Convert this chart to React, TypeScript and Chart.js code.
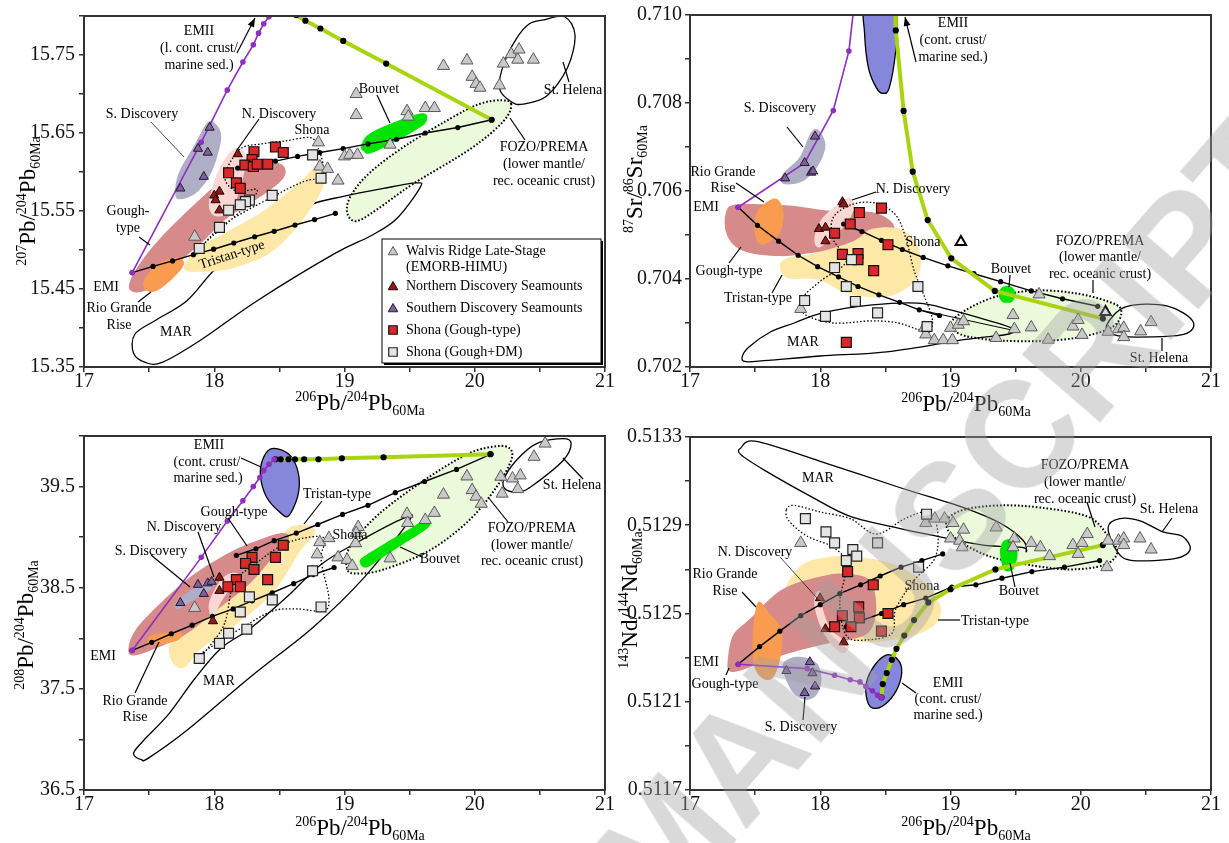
import React, { useEffect, useRef } from "react";
import { Chart, registerables } from "chart.js";

Chart.register(...registerables);

type P = [number, number];

const SERIF = "'Liberation Serif', 'Times New Roman', serif";

/* ================= AXES ================= */
const xTickValues = [17, 17.5, 18, 18.5, 19, 19.5, 20, 20.5, 21];
const xTickLabels = ["17", "", "18", "", "19", "", "20", "", "21"];

const p1YTicks = [15.35, 15.4, 15.45, 15.5, 15.55, 15.6, 15.65, 15.7, 15.75, 15.8];
const p1YLabels = ["15.35", "", "15.45", "", "15.55", "", "15.65", "", "15.75", ""];
const p2YTicks = [0.702, 0.703, 0.704, 0.705, 0.706, 0.707, 0.708, 0.709, 0.71];
const p2YLabels = ["0.702", "", "0.704", "", "0.706", "", "0.708", "", "0.710"];
const p3YTicks = [36.5, 37.0, 37.5, 38.0, 38.5, 39.0, 39.5, 40.0];
const p3YLabels = ["36.5", "", "37.5", "", "38.5", "", "39.5", ""];
const p4YTicks = [0.5117, 0.5119, 0.5121, 0.5123, 0.5125, 0.5127, 0.5129, 0.5131, 0.5133];
const p4YLabels = ["0.5117", "", "0.5121", "", "0.5125", "", "0.5129", "", "0.5133"];

type Seg = [string, number]; // 0 normal, 1 sup, 2 sub
const xTitle: Seg[] = [["206", 1], ["Pb/", 0], ["204", 1], ["Pb", 0], ["60Ma", 2]];
const p1YTitle: Seg[] = [["207", 1], ["Pb/", 0], ["204", 1], ["Pb", 0], ["60Ma", 2]];
const p2YTitle: Seg[] = [["87", 1], ["Sr/", 0], ["86", 1], ["Sr", 0], ["60Ma", 2]];
const p3YTitle: Seg[] = [["208", 1], ["Pb/", 0], ["204", 1], ["Pb", 0], ["60Ma", 2]];
const p4YTitle: Seg[] = [["143", 1], ["Nd/", 0], ["144", 1], ["Nd", 0], ["60Ma", 2]];

/* ================= PANEL 1 : 207Pb/204Pb ================= */
const walvis1: P[] = [[19.76,15.736],[19.94,15.743],[19.98,15.722],[20.01,15.713],[20.04,15.708],[20.22,15.739],[20.28,15.751],[20.33,15.744],[20.34,15.757],[20.45,15.744],[20.19,15.711],[19.09,15.7],[19.09,15.673],[19.48,15.678],[19.49,15.671],[19.62,15.682],[19.69,15.682],[19.35,15.635],[18.8,15.638],[19.0,15.62],[19.04,15.622],[19.1,15.622],[18.81,15.607],[18.87,15.604],[18.95,15.589],[17.85,15.517]];
const nDisc1: P[] = [[18.18,15.623],[18.04,15.575],[18.0,15.57],[18.01,15.564],[18.04,15.551]];
const sDisc1: P[] = [[17.965,15.657],[17.875,15.63],[17.95,15.625],[17.92,15.594],[17.74,15.579]];
const shonaG1: P[] = [[18.305,15.626],[18.47,15.632],[18.53,15.625],[18.29,15.616],[18.235,15.609],[18.3,15.607],[18.33,15.61],[18.41,15.61],[18.11,15.599],[18.17,15.586],[18.2,15.579]];
const shonaDM1: P[] = [[18.755,15.622],[18.82,15.592],[18.445,15.57],[18.27,15.564],[18.24,15.562],[18.2,15.558],[18.11,15.551],[18.04,15.529],[17.885,15.502]];
const purple1: P[] = [[17.37,15.471],[17.9,15.638],[18.1,15.705],[18.22,15.741],[18.3,15.763],[18.34,15.778],[18.38,15.79],[18.42,15.799]];
const purple1Stub: P[] = [[18.42,15.799],[18.45,15.81]];
const green1: P[] = [[18.63,15.801],[18.7,15.794],[18.815,15.784],[18.99,15.768],[19.32,15.739],[20.13,15.667]];
const green1Stub: P[] = [[18.59,15.81],[18.63,15.801]];
const blackUp1: P[] = [[18.18,15.605],[18.32,15.61],[18.47,15.614],[18.64,15.62],[18.81,15.625],[18.99,15.63],[19.18,15.636],[19.4,15.642],[19.62,15.65],[19.87,15.657],[20.13,15.667]];
const blackLow1: P[] = [[17.37,15.471],[17.53,15.479],[17.68,15.486],[17.84,15.494],[17.995,15.501],[18.15,15.509],[18.31,15.517],[18.46,15.524],[18.62,15.532],[18.77,15.539],[18.93,15.547]];

const fozo1: P[] = [[20.28,15.687],[20.2,15.692],[20.05,15.688],[19.86,15.673],[19.48,15.635],[19.2,15.6],[19.05,15.57],[19.02,15.548],[19.09,15.537],[19.25,15.552],[19.52,15.584],[19.97,15.63],[20.22,15.665]];
const mar1: P[] = [[17.47,15.356],[17.38,15.368],[17.39,15.392],[17.55,15.41],[17.79,15.435],[18.01,15.476],[18.3,15.515],[18.71,15.556],[19.0,15.569],[19.3,15.579],[19.55,15.586],[19.58,15.58],[19.4,15.54],[19.2,15.518],[18.92,15.495],[18.33,15.435],[17.9,15.385],[17.6,15.356]];
const stHel1: P[] = [[20.53,15.795],[20.69,15.799],[20.77,15.775],[20.71,15.733],[20.55,15.697],[20.37,15.687],[20.28,15.69],[20.19,15.707],[20.22,15.737],[20.32,15.771],[20.42,15.79]];
const tristan1: P[] = [[17.768,15.476],[17.852,15.499],[18.083,15.522],[18.35,15.547],[18.635,15.584],[18.79,15.608],[18.85,15.603],[18.82,15.575],[18.643,15.531],[18.428,15.496],[18.15,15.477],[17.89,15.472]];
const gough1: P[] = [[17.345,15.452],[17.41,15.478],[17.59,15.516],[17.845,15.558],[18.075,15.592],[18.23,15.609],[18.43,15.613],[18.535,15.607],[18.53,15.592],[18.38,15.571],[18.1,15.541],[17.92,15.512],[17.77,15.49],[17.59,15.461],[17.435,15.446]];
const rioG1: P[] = [[17.46,15.461],[17.563,15.482],[17.716,15.49],[17.768,15.482],[17.69,15.465],[17.563,15.448],[17.476,15.448]];
const nDiscF1: P[] = [[17.96,15.563],[18.03,15.601],[18.127,15.626],[18.203,15.63],[18.244,15.613],[18.18,15.569],[18.1,15.546],[17.99,15.545]];
const sDiscF1: P[] = [[17.98,15.665],[18.04,15.655],[18.05,15.638],[17.98,15.6],[17.86,15.573],[17.73,15.565],[17.7,15.575],[17.73,15.6],[17.85,15.635],[17.93,15.66]];
const bouvet1: P[] = [[19.13,15.635],[19.22,15.652],[19.58,15.675],[19.63,15.665],[19.53,15.652],[19.22,15.625],[19.145,15.627]];
const shona1: P[] = [[18.1,15.605],[18.203,15.63],[18.357,15.636],[18.55,15.64],[18.74,15.644],[18.8,15.63],[18.84,15.605],[18.817,15.592],[18.69,15.588],[18.433,15.567],[18.075,15.533],[17.896,15.503],[17.92,15.508],[18.228,15.554],[18.33,15.577],[18.177,15.575],[18.088,15.588]];

/* ================= PANEL 2 : 87Sr/86Sr ================= */
const walvis2: P[] = [[17.85,0.70332],[18.8,0.70289],[18.81,0.70274],[18.875,0.70261],[18.944,0.70261],[19.015,0.70261],[19.0,0.70289],[19.06,0.70296],[19.1,0.70304],[19.48,0.70318],[19.49,0.70286],[19.62,0.7029],[19.68,0.70365],[19.75,0.70262],[19.35,0.70266],[19.94,0.70292],[19.98,0.70307],[20.01,0.70273],[20.21,0.7028],[20.29,0.70286],[20.33,0.70289],[20.33,0.70268],[20.46,0.70281],[20.54,0.70302]];
const open2: P[] = [[19.08,0.70484],[20.19,0.70325]];
const nDisc2: P[] = [[18.17,0.70575],[18.18,0.7057],[17.99,0.70514],[18.04,0.70517],[18.04,0.70486]];
const sDisc2: P[] = [[17.96,0.70724],[17.88,0.70664],[17.93,0.70642],[17.945,0.70645],[17.73,0.70629]];
const shonaG2: P[] = [[18.3,0.70551],[18.47,0.70561],[18.23,0.70525],[18.11,0.70504],[18.52,0.70478],[18.17,0.70456],[18.29,0.70458],[18.29,0.70444],[18.41,0.70419],[18.2,0.70256]];
const shonaDM2: P[] = [[18.11,0.70426],[18.24,0.70444],[18.2,0.70383],[18.27,0.70349],[17.88,0.70351],[18.04,0.70315],[18.44,0.70323],[18.75,0.70383],[18.82,0.70292]];
const purple2: P[] = [[17.37,0.70563],[17.88,0.70664],[18.1,0.70783],[18.22,0.70918]];
const purple2Stub: P[] = [[18.22,0.70918],[18.255,0.7101]];
const green2: P[] = [[18.58,0.70965],[18.64,0.70782],[18.71,0.70644],[18.825,0.70534],[19.006,0.70447],[19.34,0.70373],[20.17,0.7031]];
const green2Stub: P[] = [[18.575,0.7101],[18.58,0.70965]];
const blackLow2: P[] = [[17.37,0.70563],[17.518,0.70522],[17.68,0.70486],[17.83,0.70454],[17.98,0.70428],[18.14,0.70405],[18.29,0.70383],[18.45,0.70364],[18.61,0.70347],[18.76,0.7033],[18.915,0.70317]];
const thin2: P[] = [[18.76,0.7033],[19.47,0.70284]];
const blackUp2: P[] = [[18.18,0.70525],[18.32,0.70508],[18.47,0.70488],[18.63,0.70467],[18.79,0.70449],[18.98,0.7043],[19.18,0.70412],[19.385,0.70394],[19.62,0.70373],[19.86,0.70355],[20.13,0.70338]];

const emii2: P[] = [[18.35,0.7102],[18.34,0.7096],[18.37,0.7088],[18.43,0.70835],[18.48,0.70822],[18.53,0.70835],[18.58,0.7092],[18.59,0.71],[18.58,0.7103]];
const rioG2: P[] = [[17.65,0.70583],[17.717,0.70555],[17.686,0.70503],[17.546,0.70478],[17.495,0.7051],[17.52,0.70555]];
const gough2: P[] = [[17.28,0.70555],[17.38,0.7057],[17.76,0.70567],[18.07,0.70555],[18.27,0.70555],[18.45,0.70548],[18.56,0.70525],[18.53,0.70503],[18.27,0.70473],[17.97,0.70461],[17.69,0.70452],[17.4,0.70465],[17.28,0.70503]];
const tristan2: P[] = [[17.69,0.7043],[17.75,0.70448],[17.95,0.70458],[18.25,0.70485],[18.4,0.70514],[18.63,0.70512],[18.76,0.70465],[18.75,0.70405],[18.6,0.70368],[18.43,0.70358],[18.2,0.70368],[17.99,0.70398],[17.75,0.70402]];
const nDiscF2: P[] = [[18.25,0.70578],[18.2,0.70582],[18.02,0.7054],[17.955,0.70492],[18.006,0.70473],[18.2,0.70525],[18.26,0.70563]];
const sDiscF2: P[] = [[17.98,0.7074],[18.04,0.70706],[17.99,0.70661],[17.87,0.70623],[17.72,0.70616],[17.71,0.70638],[17.84,0.70676],[17.92,0.70728]];
const fozo2: P[] = [[19.0,0.703],[19.12,0.7033],[19.35,0.7036],[19.65,0.70374],[19.95,0.70368],[20.2,0.7035],[20.31,0.7033],[20.25,0.70292],[20.0,0.70268],[19.7,0.70259],[19.4,0.7026],[19.15,0.70268],[19.03,0.70282]];
const bouvet2: P[] = [[19.37,0.70365],[19.4,0.70382],[19.47,0.70382],[19.5,0.70365],[19.47,0.70348],[19.4,0.70348]];
const stHel2: P[] = [[20.2,0.70296],[20.35,0.70337],[20.66,0.70339],[20.86,0.70304],[20.79,0.70274],[20.43,0.70268],[20.25,0.70274]];
const mar2: P[] = [[17.4,0.70222],[17.45,0.70245],[17.62,0.7028],[17.8,0.703],[18.02,0.70323],[18.4,0.70341],[18.75,0.70345],[19.0,0.7033],[19.3,0.70305],[19.47,0.70288],[19.45,0.70275],[19.1,0.70262],[18.53,0.70235],[18.0,0.70225],[17.6,0.70215],[17.43,0.70212]];
const shona2: P[] = [[18.43,0.70572],[18.58,0.70545],[18.66,0.7049],[18.72,0.7042],[18.8,0.7036],[18.86,0.7031],[18.84,0.7028],[18.75,0.70285],[18.6,0.703],[18.4,0.70305],[18.1,0.703],[17.88,0.7032],[17.86,0.70355],[18.0,0.70395],[18.2,0.7044],[18.1,0.7049],[18.1,0.7054],[18.25,0.7057]];

/* ================= PANEL 3 : 208Pb/204Pb ================= */
const walvis3: P[] = [[20.54,39.925],[20.455,39.794],[20.29,39.58],[20.35,39.61],[20.33,39.475],[20.21,39.43],[20.2,39.597],[19.94,39.6],[19.98,39.465],[20.01,39.4],[20.05,39.33],[19.76,39.42],[19.69,39.24],[19.62,39.17],[19.48,39.23],[19.485,39.14],[19.35,38.79],[19.105,39.1],[19.09,39.04],[19.085,38.94],[18.95,38.8],[19.02,38.775],[19.06,38.716],[18.81,38.95],[18.79,38.83],[18.88,38.99],[17.85,38.3]];
const nDisc3: P[] = [[18.04,38.6],[18.04,38.47],[17.99,38.17]];
const sDisc3: P[] = [[17.875,38.53],[17.95,38.545],[17.92,38.44],[17.74,38.35],[17.98,38.56]];
const shonaG3: P[] = [[18.53,38.92],[18.47,38.8],[18.29,38.8],[18.24,38.74],[18.305,38.68],[18.41,38.58],[18.17,38.58],[18.105,38.51],[18.2,38.51]];
const shonaDM3: P[] = [[18.755,38.667],[18.446,38.38],[18.27,38.41],[18.2,38.26],[18.25,38.09],[18.11,38.05],[18.04,37.95],[17.885,37.8],[18.82,38.31]];
const purple3: P[] = [[17.37,37.88],[17.9,38.8],[18.1,39.16],[18.22,39.36],[18.3,39.5],[18.35,39.59],[18.38,39.66],[18.42,39.72],[18.46,39.77]];
const green3: P[] = [[18.47,39.77],[18.51,39.77],[18.57,39.77],[18.62,39.77],[18.69,39.77],[18.8,39.77],[18.98,39.78],[19.3,39.79],[20.12,39.82]];
const blackLow3: P[] = [[17.37,37.88],[17.52,37.96],[17.67,38.045],[17.83,38.13],[17.985,38.216],[18.145,38.29],[18.29,38.37],[18.445,38.45],[18.61,38.54],[18.76,38.63],[18.92,38.7]];
const blackUp3: P[] = [[18.17,38.82],[18.32,38.885],[18.46,38.965],[18.63,39.04],[18.795,39.125],[18.985,39.225],[19.18,39.315],[19.39,39.44],[19.615,39.55],[19.86,39.67],[20.125,39.82]];

const mar3: P[] = [[17.44,36.8],[17.38,36.86],[17.45,36.98],[17.65,37.25],[17.85,37.6],[18.05,37.9],[18.28,38.1],[18.55,38.4],[18.82,38.73],[19.1,38.95],[19.46,39.19],[19.49,39.15],[19.15,38.6],[18.76,38.11],[18.28,37.62],[17.8,37.1],[17.5,36.82]];
const stHel3: P[] = [[20.22,39.56],[20.32,39.76],[20.475,39.925],[20.68,39.975],[20.74,39.925],[20.68,39.76],[20.45,39.515],[20.35,39.45],[20.245,39.465]];
const fozo3: P[] = [[19.02,38.69],[19.04,38.9],[19.27,39.235],[19.655,39.6],[19.96,39.83],[20.17,39.9],[20.27,39.875],[20.28,39.76],[20.17,39.5],[19.96,39.17],[19.655,38.87],[19.3,38.68],[19.09,38.64]];
const tristan3: P[] = [[17.68,37.76],[17.66,37.95],[17.8,38.15],[18.1,38.45],[18.4,38.78],[18.55,39.06],[18.65,39.12],[18.75,39.1],[18.77,39.03],[18.66,38.86],[18.45,38.45],[18.15,38.12],[17.9,37.9],[17.77,37.71]];
const gough3: P[] = [[17.34,37.88],[17.38,38.05],[17.51,38.25],[17.82,38.61],[18.15,38.87],[18.38,38.99],[18.53,39.04],[18.57,38.98],[18.45,38.8],[18.28,38.55],[18.02,38.28],[17.77,38.03],[17.51,37.88],[17.38,37.83]];
const rioG3: P[] = [[17.48,37.96],[17.52,38.03],[17.65,38.06],[17.75,38.05],[17.72,37.98],[17.6,37.94],[17.5,37.93]];
const nDiscF3: P[] = [[17.97,38.22],[17.96,38.35],[18.02,38.52],[18.1,38.63],[18.18,38.64],[18.19,38.55],[18.1,38.45],[18.03,38.3],[18.0,38.2]];
const sDiscF3: P[] = [[17.7,38.31],[17.72,38.38],[17.85,38.5],[17.98,38.585],[18.02,38.56],[17.95,38.46],[17.82,38.36],[17.73,38.29]];
const emii3: P[] = [[18.43,39.87],[18.52,39.86],[18.6,39.78],[18.65,39.6],[18.64,39.4],[18.57,39.21],[18.5,39.25],[18.4,39.4],[18.355,39.6],[18.37,39.76]];
const bouvet3: P[] = [[19.12,38.74],[19.14,38.8],[19.3,38.93],[19.5,39.08],[19.6,39.16],[19.66,39.14],[19.62,39.07],[19.45,38.93],[19.28,38.79],[19.17,38.7]];
const shona3: P[] = [[18.52,38.92],[18.73,39.0],[18.85,38.98],[18.82,38.78],[18.88,38.4],[18.84,38.27],[18.64,38.29],[18.45,38.27],[18.22,38.11],[17.9,37.85],[17.86,37.78],[17.95,37.9],[18.08,38.15],[18.15,38.55],[18.3,38.72]];

/* ================= PANEL 4 : 143Nd/144Nd ================= */
const walvis4: P[] = [[17.85,0.51282],[18.81,0.51291],[18.88,0.51293],[18.955,0.51293],[19.02,0.51291],[19.1,0.51288],[19.0,0.51284],[19.07,0.51283],[19.09,0.5128],[19.35,0.51289],[19.49,0.51284],[19.48,0.5128],[19.62,0.51282],[19.69,0.5128],[19.76,0.51276],[19.94,0.51281],[20.01,0.51282],[20.05,0.51286],[19.98,0.51277],[20.2,0.51271],[20.21,0.51283],[20.29,0.51283],[20.33,0.51284],[20.33,0.51281],[20.455,0.51284],[20.54,0.51279]];
const nDisc4: P[] = [[17.998,0.51257],[18.04,0.51243],[18.18,0.51237]];
const sDisc4: P[] = [[17.92,0.51228],[17.74,0.51224],[17.94,0.51223],[17.96,0.51217],[17.88,0.51214]];
const shonaG4: P[] = [[18.21,0.51269],[18.407,0.51263],[18.295,0.51253],[18.17,0.51249],[18.3,0.51248],[18.11,0.51244],[18.236,0.51244],[18.52,0.5125],[18.47,0.51242]];
const shonaDM4: P[] = [[17.886,0.51293],[18.044,0.51287],[18.11,0.51282],[18.25,0.51279],[18.28,0.51276],[18.2,0.51274],[18.44,0.51282],[18.755,0.51271],[18.816,0.51295]];
const purple4: P[] = [[17.37,0.51227],[17.9,0.51225],[18.11,0.51222],[18.23,0.5122],[18.305,0.51219],[18.35,0.51217],[18.4,0.51215],[18.44,0.51213],[18.47,0.51212]];
const green4: P[] = [[18.47,0.51212],[18.48,0.51218],[18.51,0.51223],[18.55,0.51229],[18.585,0.51234],[18.645,0.5124],[18.72,0.51247],[18.83,0.51255],[19.0,0.51261],[19.345,0.5127],[20.17,0.51281]];
const blackA4: P[] = [[17.37,0.51227],[17.535,0.51235],[17.69,0.51242],[17.85,0.51249],[18.0,0.51254],[18.15,0.51259],[18.31,0.51263],[18.46,0.51267],[18.62,0.51271],[18.78,0.51274],[18.94,0.51277]];
const blackB4: P[] = [[18.2,0.51244],[18.325,0.51247],[18.47,0.5125],[18.64,0.51254],[18.81,0.51257],[19.01,0.51262],[19.195,0.51263],[19.395,0.51266],[19.625,0.51269],[19.875,0.51271],[20.145,0.51274]];

const mar4: P[] = [[17.39,0.51325],[17.51,0.51328],[18.0,0.51319],[18.615,0.51307],[19.1,0.51298],[19.38,0.51291],[19.56,0.51283],[19.58,0.51278],[19.55,0.5128],[19.25,0.51281],[18.9,0.51285],[18.615,0.512885],[18.23,0.51294],[17.93,0.51303],[17.57,0.51315],[17.39,0.51322]];
const stHel4: P[] = [[20.21,0.51289],[20.3,0.51293],[20.455,0.51292],[20.63,0.51287],[20.78,0.51285],[20.84,0.51279],[20.73,0.51275],[20.4,0.51274],[20.28,0.51278]];
const fozo4: P[] = [[18.97,0.51292],[19.1,0.51297],[19.38,0.51299],[19.69,0.51298],[20.05,0.51294],[20.2,0.51286],[20.28,0.51278],[20.18,0.51272],[19.89,0.5127],[19.51,0.51273],[19.25,0.51277],[19.02,0.51285]];
const tristan4: P[] = [[17.72,0.51259],[17.84,0.51271],[18.0,0.51275],[18.2,0.51276],[18.53,0.51273],[18.8,0.51264],[18.925,0.51253],[18.88,0.51245],[18.71,0.5124],[18.38,0.51237],[18.1,0.5124],[17.8,0.5125]];
const gough4: P[] = [[17.29,0.51229],[17.33,0.5124],[17.45,0.51247],[17.71,0.51261],[18.02,0.51267],[18.2,0.51268],[18.38,0.51265],[18.43,0.51253],[18.38,0.51242],[18.22,0.51238],[18.02,0.51236],[17.76,0.51232],[17.56,0.51228],[17.38,0.51224],[17.3,0.51224]];
const rioG4: P[] = [[17.52,0.51255],[17.61,0.5125],[17.7,0.51243],[17.7,0.51232],[17.65,0.51222],[17.58,0.5122],[17.5,0.51225],[17.48,0.51238]];
const nDiscF4: P[] = [[17.96,0.51258],[18.0,0.5126],[18.02,0.51252],[18.08,0.51243],[18.18,0.51238],[18.22,0.51235],[18.18,0.51232],[18.1,0.51235],[18.01,0.51243],[17.96,0.51252]];
const sDiscF4: P[] = [[17.71,0.51226],[17.78,0.5123],[17.89,0.5123],[17.98,0.51227],[18.01,0.5122],[17.97,0.51213],[17.88,0.51211],[17.78,0.51215]];
const emii4: P[] = [[18.35,0.51217],[18.4,0.51225],[18.5,0.51231],[18.58,0.5123],[18.625,0.51225],[18.6,0.51217],[18.52,0.5121],[18.43,0.51207],[18.37,0.51209]];
const bouvet4: P[] = [[19.38,0.51278],[19.41,0.51283],[19.48,0.51283],[19.515,0.51277],[19.48,0.5127],[19.41,0.5127]];
const shona4: P[] = [[17.74,0.51297],[17.8,0.51299],[18.0,0.51296],[18.23,0.51293],[18.43,0.51286],[18.65,0.51293],[18.83,0.51296],[18.9,0.51288],[18.88,0.51275],[18.72,0.51265],[18.58,0.51252],[18.55,0.51241],[18.35,0.51238],[18.2,0.5124],[18.15,0.51255],[18.2,0.51272],[18.1,0.5128],[17.9,0.51285],[17.76,0.51292]];

/* ================= LEGEND ================= */
const legendKeys = ["walvis", "nd", "sd", "shonaG", "shonaDM"];
const legendLabels = [["Walvis Ridge Late-Stage", "(EMORB-HIMU)"], ["Northern Discovery Seamounts"], ["Southern Discovery Seamounts"], ["Shona (Gough-type)"], ["Shona (Gough+DM)"]];

/* ================= STYLES ================= */
const MK: any = {
  walvis: { style: "triangle", r: 7, fill: "#c9c9c9", stroke: "#5a5a5a", lw: 1, order: 5 },
  open: { style: "triangle", r: 6, fill: "#ffffff", stroke: "#000000", lw: 2, order: 5 },
  nd: { style: "triangle", r: 5.3, fill: "#8e1b1b", stroke: "#220000", lw: 1, order: 3 },
  sd: { style: "triangle", r: 5.3, fill: "#806098", stroke: "#241830", lw: 1, order: 4 },
  shonaG: { style: "rect", r: 7, fill: "#d82828", stroke: "#111111", lw: 1.2, order: 2 },
  shonaDM: { style: "rect", r: 7, fill: "#e4e4e4", stroke: "#222222", lw: 1.2, order: 1 },
};
const LS: any = {
  black: { color: "#000000", width: 1.4, dot: "#000000", r: 2.6, order: 8 },
  thin: { color: "#000000", width: 1, dot: "#000000", r: 0, order: 9 },
  purple: { color: "#8e2fc0", width: 1.6, dot: "#8e2fc0", r: 2.8, order: 6 },
  purpleStub: { color: "#8e2fc0", width: 1.6, dot: "#8e2fc0", r: 0, order: 6 },
  green: { color: "#a9d410", width: 4, dot: "#000000", r: 3.1, order: 7 },
  greenStub: { color: "#a9d410", width: 4, dot: "#000000", r: 0, order: 7 },
};
const FS: any = {
  mar: { stroke: "#000000", lw: 1.3 },
  st: { stroke: "#000000", lw: 1.3 },
  fozo: { fill: "#ecfadc", stroke: "#000000", lw: 2, dash: [1.6, 2] },
  tristan: { fill: "#fde8a8" },
  gough: { fill: "#d68a8a" },
  rg: { fill: "#f99c50" },
  nd: { fill: "#fbd7d3" },
  sd: { fill: "#afaec7" },
  emii: { fill: "#8686da", stroke: "#000000", lw: 1.3 },
  bouvet: { fill: "#00e400" },
  shona: { stroke: "#000000", lw: 1.3, dash: [1.5, 2] },
};

/* ================= ANNOTATIONS (canvas px) ================= */
const p1Texts = [
  { t: "EMII", x: 199, y: 31 }, { t: "(l. cont. crust/", x: 199, y: 48 }, { t: "marine sed.)", x: 199, y: 65 },
  { t: "S. Discovery", x: 142, y: 114 }, { t: "N. Discovery", x: 279, y: 114 }, { t: "Shona", x: 312, y: 130 },
  { t: "Bouvet", x: 379, y: 89 }, { t: "St. Helena", x: 573, y: 90 },
  { t: "FOZO/PREMA", x: 544, y: 147 }, { t: "(lower mantle/", x: 544, y: 164 }, { t: "rec. oceanic crust)", x: 544, y: 181 },
  { t: "Gough-", x: 128, y: 211 }, { t: "type", x: 128, y: 228 }, { t: "Tristan-type", x: 232, y: 255, r: -18 },
  { t: "EMI", x: 106, y: 287 }, { t: "Rio Grande", x: 119, y: 308 }, { t: "Rise", x: 119, y: 325 }, { t: "MAR", x: 176, y: 332 },
];
const p1Leaders = [
  { a: [151, 122], b: [184, 157], w: 0.7 }, { a: [259, 119], b: [237, 150] }, { a: [377, 95], b: [390, 123] },
  { a: [563, 62], b: [569, 82] }, { a: [510, 118], b: [525, 140] }, { a: [139, 237], b: [150, 245] },
  { a: [151, 292], b: [138, 302] }, { a: [237, 53], b: [255, 18], arrow: true },
];
const p2Texts = [
  { t: "EMII", x: 338, y: 23 }, { t: "(cont. crust/", x: 338, y: 40 }, { t: "marine sed.)", x: 338, y: 57 },
  { t: "S. Discovery", x: 165, y: 108 }, { t: "Rio Grande", x: 108, y: 172 }, { t: "Rise", x: 108, y: 188 },
  { t: "EMI", x: 91, y: 207 }, { t: "N. Discovery", x: 298, y: 189 }, { t: "Shona", x: 308, y: 242 },
  { t: "Gough-type", x: 114, y: 271 }, { t: "Tristan-type", x: 143, y: 298 },
  { t: "FOZO/PREMA", x: 485, y: 241 }, { t: "(lower mantle/", x: 485, y: 257 }, { t: "rec. oceanic crust)", x: 485, y: 274 },
  { t: "Bouvet", x: 396, y: 269 }, { t: "MAR", x: 188, y: 342 }, { t: "St. Helena", x: 544, y: 358 },
];
const p2Leaders = [
  { a: [301, 62], b: [290, 17], arrow: true }, { a: [172, 127], b: [188, 147] }, { a: [121, 183], b: [149, 202] },
  { a: [261, 192], b: [237, 200] }, { a: [114, 263], b: [126, 247] }, { a: [157, 293], b: [167, 275] },
  { a: [478, 280], b: [478, 293] }, { a: [395, 275], b: [394, 287] }, { a: [547, 351], b: [547, 338] },
];
const p3Texts = [
  { t: "EMII", x: 209, y: 25 }, { t: "(cont. crust/", x: 207, y: 42 }, { t: "marine sed.)", x: 208, y: 58 },
  { t: "Tristan-type", x: 337, y: 74 }, { t: "Gough-type", x: 234, y: 92 }, { t: "N. Discovery", x: 184, y: 107 },
  { t: "S. Discovery", x: 151, y: 131 }, { t: "Shona", x: 350, y: 115 }, { t: "EMI", x: 103, y: 236 },
  { t: "Rio Grande", x: 135, y: 281 }, { t: "Rise", x: 135, y: 297 }, { t: "MAR", x: 219, y: 261 },
  { t: "Bouvet", x: 440, y: 139 }, { t: "FOZO/PREMA", x: 532, y: 108 }, { t: "(lower mantle/", x: 532, y: 125 },
  { t: "rec. oceanic crust)", x: 532, y: 141 }, { t: "St. Helena", x: 572, y: 65 },
];
const p3Leaders = [
  { a: [241, 38], b: [261, 47] }, { a: [304, 104], b: [322, 81] }, { a: [228, 98], b: [247, 126] },
  { a: [198, 112], b: [214, 157] }, { a: [151, 135], b: [190, 167] }, { a: [135, 273], b: [159, 222] },
  { a: [422, 137], b: [400, 127] }, { a: [508, 102], b: [488, 77] }, { a: [563, 38], b: [583, 59] },
];
const p4Texts = [
  { t: "MAR", x: 203, y: 58 }, { t: "FOZO/PREMA", x: 470, y: 45 }, { t: "(lower mantle/", x: 470, y: 62 },
  { t: "rec. oceanic crust)", x: 470, y: 79 }, { t: "St. Helena", x: 554, y: 89 }, { t: "N. Discovery", x: 140, y: 132 },
  { t: "Rio Grande", x: 110, y: 154 }, { t: "Rise", x: 110, y: 171 }, { t: "Shona", x: 307, y: 166 },
  { t: "Tristan-type", x: 380, y: 201 }, { t: "Bouvet", x: 404, y: 171 }, { t: "EMI", x: 91, y: 242 },
  { t: "Gough-type", x: 110, y: 264 }, { t: "EMII", x: 333, y: 263 }, { t: "(cont. crust/", x: 333, y: 279 },
  { t: "marine sed.)", x: 333, y: 295 }, { t: "S. Discovery", x: 186, y: 307 },
];
const p4Leaders = [
  { a: [472, 82], b: [480, 107] }, { a: [557, 98], b: [547, 112] }, { a: [165, 137], b: [202, 178], w: 0.7 },
  { a: [127, 172], b: [141, 187] }, { a: [323, 200], b: [345, 200] }, { a: [400, 167], b: [395, 143] },
  { a: [114, 248], b: [111, 255] }, { a: [287, 263], b: [301, 273] }, { a: [190, 277], b: [188, 300] },
];

/* ================= PANEL CONFIGS ================= */
const PANELS: any[] = [
  {
    left: 0, top: 0, w: 615, h: 420, yW: 84, xH: 53, padT: 13, padR: 10, yPad: 4,
    yMin: 15.35, yMax: 15.8, yTicks: p1YTicks, yLabels: p1YLabels,
    yTitle: p1YTitle, yTitlePos: [35, 201], xTitlePos: [360, 410],
    fields: [[fozo1, "fozo"], [mar1, "mar"], [stHel1, "st"], [tristan1, "tristan"], [gough1, "gough"], [rioG1, "rg"], [nDiscF1, "nd"], [sDiscF1, "sd"], [bouvet1, "bouvet"], [shona1, "shona"]],
    points: [[shonaDM1, "shonaDM"], [shonaG1, "shonaG"], [nDisc1, "nd"], [sDisc1, "sd"], [walvis1, "walvis"]],
    lines: [[blackUp1, "black"], [blackLow1, "black"], [purple1, "purple"], [purple1Stub, "purpleStub"], [green1, "green"], [green1Stub, "greenStub"]],
    texts: p1Texts, leaders: p1Leaders, legend: true,
  },
  {
    left: 615, top: 0, w: 614, h: 420, yW: 75, xH: 53, padT: 13, padR: 18, yPad: 3,
    yMin: 0.702, yMax: 0.71, yTicks: p2YTicks, yLabels: p2YLabels,
    yTitle: p2YTitle, yTitlePos: [27, 179], xTitlePos: [351, 411],
    fields: [[fozo2, "fozo"], [mar2, "mar"], [stHel2, "st"], [gough2, "gough"], [tristan2, "tristan"], [rioG2, "rg"], [nDiscF2, "nd"], [sDiscF2, "sd"], [emii2, "emii"], [bouvet2, "bouvet"], [shona2, "shona"]],
    points: [[shonaDM2, "shonaDM"], [shonaG2, "shonaG"], [nDisc2, "nd"], [sDisc2, "sd"], [walvis2, "walvis"], [open2, "open"]],
    lines: [[blackUp2, "black"], [blackLow2, "black"], [thin2, "thin"], [purple2, "purple"], [purple2Stub, "purpleStub"], [green2, "green"], [green2Stub, "greenStub"]],
    texts: p2Texts, leaders: p2Leaders, legend: false,
  },
  {
    left: 0, top: 420, w: 615, h: 423, yW: 84, xH: 53, padT: 16, padR: 10, yPad: 4,
    yMin: 36.5, yMax: 40.0, yTicks: p3YTicks, yLabels: p3YLabels,
    yTitle: p3YTitle, yTitlePos: [33, 205], xTitlePos: [360, 415],
    fields: [[fozo3, "fozo"], [mar3, "mar"], [stHel3, "st"], [tristan3, "tristan"], [gough3, "gough"], [rioG3, "rg"], [nDiscF3, "nd"], [sDiscF3, "sd"], [emii3, "emii"], [bouvet3, "bouvet"], [shona3, "shona"]],
    points: [[shonaDM3, "shonaDM"], [shonaG3, "shonaG"], [nDisc3, "nd"], [sDisc3, "sd"], [walvis3, "walvis"]],
    lines: [[blackUp3, "black"], [blackLow3, "black"], [purple3, "purple"], [green3, "green"]],
    texts: p3Texts, leaders: p3Leaders, legend: false,
  },
  {
    left: 615, top: 420, w: 614, h: 423, yW: 75, xH: 53, padT: 17, padR: 18, yPad: 3,
    yMin: 0.5117, yMax: 0.5133, yTicks: p4YTicks, yLabels: p4YLabels,
    yTitle: p4YTitle, yTitlePos: [22, 180], xTitlePos: [351, 415],
    fields: [[fozo4, "fozo"], [mar4, "mar"], [stHel4, "st"], [tristan4, "tristan"], [gough4, "gough"], [rioG4, "rg"], [nDiscF4, "nd"], [sDiscF4, "sd"], [emii4, "emii"], [bouvet4, "bouvet"], [shona4, "shona"]],
    points: [[shonaDM4, "shonaDM"], [shonaG4, "shonaG"], [nDisc4, "nd"], [sDisc4, "sd"], [walvis4, "walvis"]],
    lines: [[blackB4, "black"], [blackA4, "black"], [purple4, "purple"], [green4, "green"]],
    texts: p4Texts, leaders: p4Leaders, legend: false,
  },
];

/* ================= DRAW HELPERS ================= */
function pathSmooth(ctx: CanvasRenderingContext2D, pts: number[][]) {
  const n = pts.length;
  ctx.moveTo(pts[0][0], pts[0][1]);
  for (let i = 0; i < n; i++) {
    const p0 = pts[(i - 1 + n) % n], p1 = pts[i], p2 = pts[(i + 1) % n], p3 = pts[(i + 2) % n];
    ctx.bezierCurveTo(
      p1[0] + (p2[0] - p0[0]) / 6, p1[1] + (p2[1] - p0[1]) / 6,
      p2[0] - (p3[0] - p1[0]) / 6, p2[1] - (p3[1] - p1[1]) / 6,
      p2[0], p2[1]
    );
  }
  ctx.closePath();
}

function drawRich(ctx: CanvasRenderingContext2D, segs: Seg[], cx: number, cy: number, size: number, vertical: boolean) {
  const small = Math.round(size * 0.6);
  ctx.save();
  ctx.translate(cx, cy);
  if (vertical) ctx.rotate(-Math.PI / 2);
  ctx.textAlign = "left";
  ctx.textBaseline = "alphabetic";
  ctx.fillStyle = "#000";
  let total = 0;
  const widths = segs.map(([t, k]) => {
    ctx.font = `${k ? small : size}px ${SERIF}`;
    const w = ctx.measureText(t).width;
    total += w;
    return w;
  });
  let x = -total / 2;
  segs.forEach(([t, k], i) => {
    ctx.font = `${k ? small : size}px ${SERIF}`;
    const dy = k === 1 ? -size * 0.4 : k === 2 ? size * 0.22 : 0;
    ctx.fillText(t, x, dy);
    x += widths[i];
  });
  ctx.restore();
}

function drawMarker(ctx: CanvasRenderingContext2D, m: any, x: number, y: number, r: number) {
  ctx.beginPath();
  if (m.style === "triangle") {
    for (let k = 0; k < 3; k++) {
      const ang = (k * 2 * Math.PI) / 3;
      const px = x + Math.sin(ang) * r, py = y - Math.cos(ang) * r;
      if (k === 0) ctx.moveTo(px, py); else ctx.lineTo(px, py);
    }
    ctx.closePath();
  } else {
    const s = r * Math.SQRT1_2;
    ctx.rect(x - s, y - s, 2 * s, 2 * s);
  }
  ctx.fillStyle = m.fill;
  ctx.fill();
  ctx.lineWidth = m.lw;
  ctx.strokeStyle = m.stroke;
  ctx.stroke();
}

function drawFields(chart: any, c: any) {
  const { ctx, chartArea: a, scales } = chart;
  ctx.save();
  ctx.beginPath();
  ctx.rect(a.left, a.top, a.right - a.left, a.bottom - a.top);
  ctx.clip();
  c.fields.forEach(([arr, key]: any) => {
    const st = FS[key];
    const pts = arr.map(([x, y]: P) => [scales.x.getPixelForValue(x), scales.y.getPixelForValue(y)]);
    ctx.beginPath();
    pathSmooth(ctx, pts);
    if (st.fill) {
      ctx.fillStyle = st.fill;
      ctx.fill();
    }
    if (st.stroke) {
      ctx.setLineDash(st.dash || []);
      ctx.lineWidth = st.lw;
      ctx.strokeStyle = st.stroke;
      ctx.stroke();
      ctx.setLineDash([]);
    }
  });
  ctx.restore();
}

function drawOverlay(chart: any, c: any) {
  const { ctx, chartArea: a } = chart;
  ctx.save();
  ctx.strokeStyle = "#333";
  ctx.lineWidth = 2;
  ctx.strokeRect(a.left, a.top, a.right - a.left, a.bottom - a.top);

  ctx.strokeStyle = "#000";
  ctx.fillStyle = "#000";
  c.leaders.forEach((l: any) => {
    ctx.lineWidth = l.w || 1.2;
    ctx.beginPath();
    ctx.moveTo(l.a[0], l.a[1]);
    ctx.lineTo(l.b[0], l.b[1]);
    ctx.stroke();
    if (l.arrow) {
      const th = Math.atan2(l.b[1] - l.a[1], l.b[0] - l.a[0]);
      ctx.beginPath();
      ctx.moveTo(l.b[0], l.b[1]);
      ctx.lineTo(l.b[0] - 9 * Math.cos(th) + 3.5 * Math.sin(th), l.b[1] - 9 * Math.sin(th) - 3.5 * Math.cos(th));
      ctx.lineTo(l.b[0] - 9 * Math.cos(th) - 3.5 * Math.sin(th), l.b[1] - 9 * Math.sin(th) + 3.5 * Math.cos(th));
      ctx.closePath();
      ctx.fill();
    }
  });

  ctx.font = `14px ${SERIF}`;
  ctx.textAlign = "center";
  ctx.textBaseline = "middle";
  c.texts.forEach((t: any) => {
    if (t.r) {
      ctx.save();
      ctx.translate(t.x, t.y);
      ctx.rotate((t.r * Math.PI) / 180);
      ctx.fillText(t.t, 0, 0);
      ctx.restore();
    } else ctx.fillText(t.t, t.x, t.y);
  });

  drawRich(ctx, xTitle, c.xTitlePos[0], c.xTitlePos[1], 23, false);
  drawRich(ctx, c.yTitle, c.yTitlePos[0], c.yTitlePos[1], 23, true);

  if (c.legend) {
    const bx = 382, by = 239, bw = 219, bh = 124;
    ctx.fillStyle = "#fff";
    ctx.fillRect(bx, by, bw, bh);
    ctx.strokeStyle = "#000";
    ctx.lineWidth = 1;
    ctx.strokeRect(bx, by, bw, bh);
    ctx.lineWidth = 2;
    ctx.beginPath();
    ctx.moveTo(bx + bw + 1, by + 2);
    ctx.lineTo(bx + bw + 1, by + bh + 1);
    ctx.lineTo(bx + 2, by + bh + 1);
    ctx.stroke();
    const rows = [251, 286, 308, 330, 352];
    legendKeys.forEach((k, i) => {
      const m = MK[k];
      drawMarker(ctx, m, 393, rows[i] + (m.style === "triangle" ? 1 : 0), m.style === "triangle" ? 5.5 : 6);
      ctx.fillStyle = "#000";
      ctx.font = `14px ${SERIF}`;
      ctx.textAlign = "left";
      ctx.textBaseline = "middle";
      legendLabels[i].forEach((s, j) => ctx.fillText(s, 406, rows[i] + j * 16));
    });
  }
  ctx.restore();
}

function buildChart(canvas: HTMLCanvasElement, c: any) {
  const datasets: any[] = [];
  c.points.forEach(([arr, key]: any) => {
    const m = MK[key];
    datasets.push({
      data: arr.map(([x, y]: P) => ({ x, y })),
      pointStyle: m.style,
      pointRadius: m.r,
      pointBackgroundColor: m.fill,
      pointBorderColor: m.stroke,
      pointBorderWidth: m.lw,
      showLine: false,
      order: m.order,
    });
  });
  c.lines.forEach(([arr, key]: any) => {
    const s = LS[key];
    datasets.push({
      data: arr.map(([x, y]: P) => ({ x, y })),
      showLine: true,
      borderColor: s.color,
      borderWidth: s.width,
      pointRadius: s.r,
      pointStyle: "circle",
      pointBackgroundColor: s.dot,
      pointBorderWidth: 0,
      fill: false,
      tension: 0,
      order: s.order,
    });
  });

  const tickFont = { family: SERIF, size: 20 };
  return new Chart(canvas, {
    type: "scatter",
    data: { datasets },
    options: {
      responsive: false,
      animation: false,
      devicePixelRatio: 1,
      events: [],
      layout: { padding: { top: c.padT, right: c.padR, left: 0, bottom: 0 } },
      plugins: { legend: { display: false }, tooltip: { enabled: false } },
      scales: {
        x: {
          type: "linear",
          min: 17,
          max: 21,
          afterBuildTicks: (s: any) => { s.ticks = xTickValues.map((v) => ({ value: v })); },
          afterFit: (s: any) => { s.height = c.xH; },
          ticks: { autoSkip: false, maxRotation: 0, padding: -2, color: "#111", font: tickFont, callback: (_v: any, i: number) => xTickLabels[i] },
          grid: { drawOnChartArea: false, drawTicks: true, tickLength: 5, color: "#333", lineWidth: 1.5 },
          border: { display: false },
        },
        y: {
          type: "linear",
          min: c.yMin,
          max: c.yMax,
          afterBuildTicks: (s: any) => { s.ticks = c.yTicks.map((v: number) => ({ value: v })); },
          afterFit: (s: any) => { s.width = c.yW; },
          ticks: { autoSkip: false, padding: c.yPad, color: "#111", font: tickFont, callback: (_v: any, i: number) => c.yLabels[i] },
          grid: { drawOnChartArea: false, drawTicks: true, tickLength: 5, color: "#333", lineWidth: 1.5 },
          border: { display: false },
        },
      },
    } as any,
    plugins: [
      { id: "fields", beforeDatasetsDraw: (chart: any) => drawFields(chart, c) },
      { id: "overlay", afterDraw: (chart: any) => drawOverlay(chart, c) },
    ],
  });
}

function Panel({ cfg }: { cfg: any }) {
  const ref = useRef<HTMLCanvasElement | null>(null);
  useEffect(() => {
    if (!ref.current) return;
    const chart = buildChart(ref.current, cfg);
    return () => chart.destroy();
  }, [cfg]);
  return (
    <canvas
      ref={ref}
      width={cfg.w}
      height={cfg.h}
      style={{ position: "absolute", left: cfg.left, top: cfg.top, width: cfg.w, height: cfg.h }}
    />
  );
}

export default function App() {
  return (
    <div style={{ position: "absolute", left: 0, top: 0, width: 1229, height: 843, background: "#fff", overflow: "hidden" }}>
      {PANELS.map((p, i) => (
        <Panel key={i} cfg={p} />
      ))}
      <div
        style={{
          position: "absolute",
          left: 950,
          top: 515,
          transform: "translate(-50%, -50%) rotate(-49deg)",
          font: "bold 150px 'Liberation Sans', Arial, sans-serif",
          color: "rgba(160,160,160,0.4)",
          whiteSpace: "nowrap",
          pointerEvents: "none",
          lineHeight: 1,
        }}
      >
        MANUSCRIPT
      </div>
    </div>
  );
}
